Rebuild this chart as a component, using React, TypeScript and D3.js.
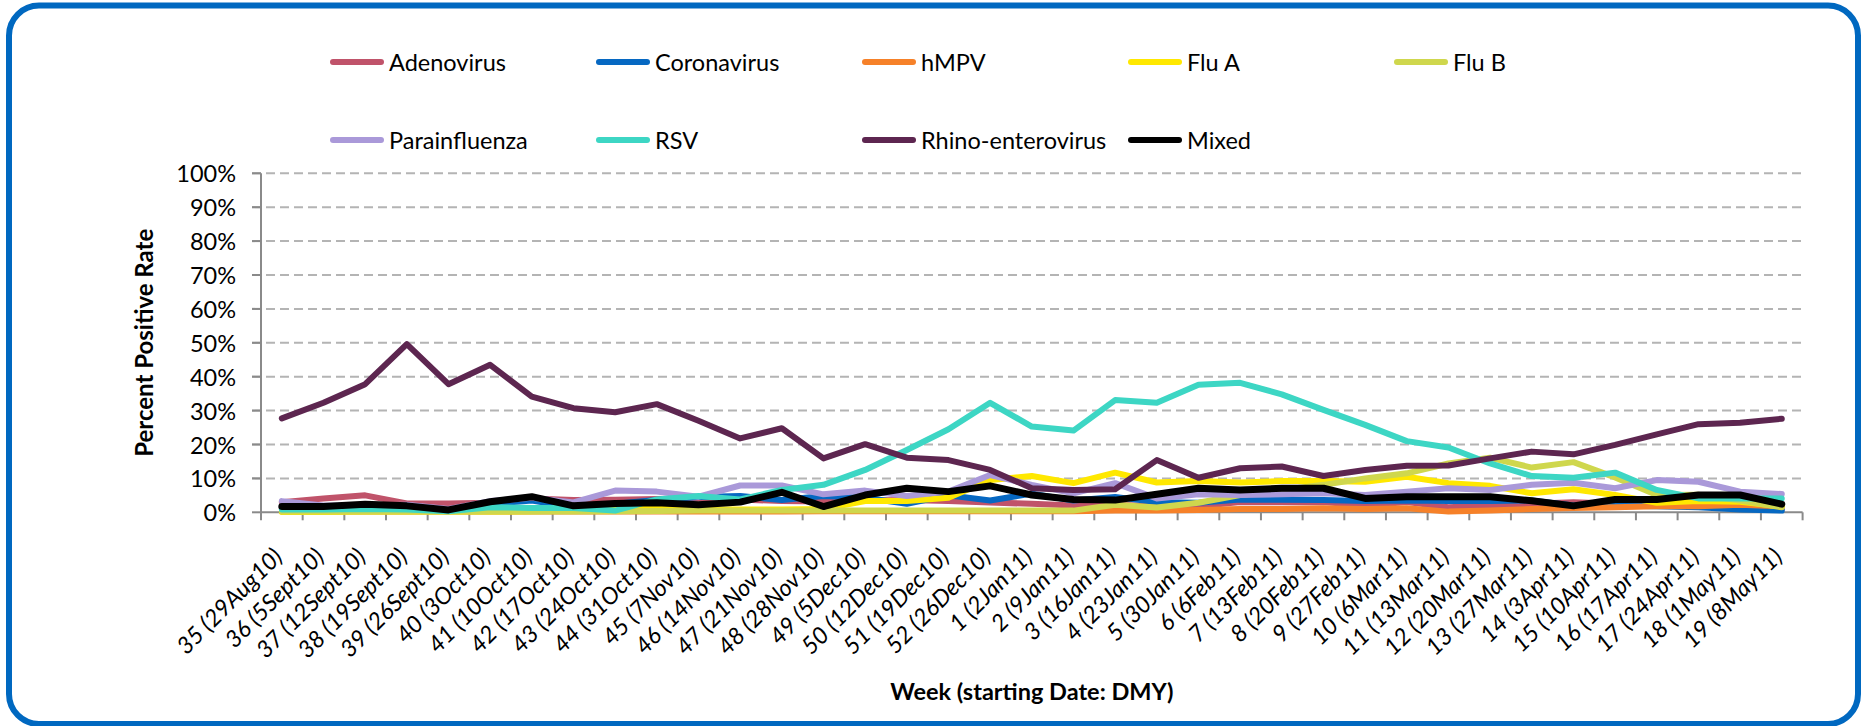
import React from "react";
import * as d3 from "d3";

const categories = [
  "35 (29Aug10)", "36 (5Sept10)", "37 (12Sept10)", "38 (19Sept10)", "39 (26Sept10)",
  "40 (3Oct10)", "41 (10Oct10)", "42 (17Oct10)", "43 (24Oct10)", "44 (31Oct10)",
  "45 (7Nov10)", "46 (14Nov10)", "47 (21Nov10)", "48 (28Nov10)", "49 (5Dec10)",
  "50 (12Dec10)", "51 (19Dec10)", "52 (26Dec10)", "1 (2Jan11)", "2 (9Jan11)",
  "3 (16Jan11)", "4 (23Jan11)", "5 (30Jan11)", "6 (6Feb11)", "7 (13Feb11)",
  "8 (20Feb11)", "9 (27Feb11)", "10 (6Mar11)", "11 (13Mar11)", "12 (20Mar11)",
  "13 (27Mar11)", "14 (3Apr11)", "15 (10Apr11)", "16 (17Apr11)", "17 (24Apr11)",
  "18 (1May11)", "19 (8May11)",
];

const adenovirus = [3.0, 4.1, 5.0, 2.6, 2.6, 2.8, 4.1, 3.6, 3.7, 3.9, 4.1, 3.8, 3.3, 3.2, 3.5, 3.6, 3.3, 2.9, 2.5, 2.0, 2.2, 1.8, 1.8, 3.0, 3.0, 3.0, 2.0, 3.0, 1.5, 2.0, 2.5, 3.0, 2.5, 2.0, 2.0, 1.5, 1.0];
const coronavirus = [1.5, 1.5, 1.8, 1.5, 0.5, 2.5, 3.5, 1.5, 2.5, 3.6, 4.5, 4.8, 3.6, 4.8, 4.3, 2.5, 5.0, 3.5, 5.5, 3.5, 4.5, 3.0, 2.8, 3.8, 3.7, 3.6, 3.3, 3.5, 3.3, 3.3, 3.5, 2.0, 2.0, 1.8, 1.5, 0.8, 0.5];
const hmpv = [0.2, 0.2, 0.2, 0.2, 0.2, 0.2, 0.2, 0.2, 0.2, 0.2, 0.2, 0.2, 0.2, 0.3, 0.3, 0.3, 0.3, 0.3, 0.3, 0.3, 0.5, 0.5, 0.7, 1.0, 1.0, 1.2, 1.0, 1.2, 0.2, 0.5, 1.0, 1.3, 1.5, 1.8, 1.8, 2.2, 1.8];
const fluA = [0.1, 0.1, 0.2, 0.2, 0.2, 0.2, 0.3, 0.5, 0.8, 1.5, 0.8, 0.8, 0.8, 1.0, 3.3, 3.3, 4.3, 9.5, 10.7, 8.6, 11.7, 8.8, 9.2, 8.8, 9.2, 9.2, 9.0, 10.5, 8.6, 7.8, 5.6, 6.8, 5.1, 2.8, 3.3, 3.1, 1.7];
const fluB = [0.2, 0.2, 0.2, 0.2, 0.2, 0.2, 0.2, 0.2, 0.3, 0.4, 0.5, 0.5, 0.5, 0.5, 0.5, 0.5, 0.5, 0.5, 0.5, 0.5, 2.2, 1.4, 2.8, 5.1, 6.6, 8.1, 10.0, 11.5, 14.4, 16.1, 13.2, 14.8, 10.3, 5.1, 5.2, 3.5, 1.5];
const parainfluenza = [3.3, 2.0, 2.0, 2.2, 1.0, 3.3, 4.3, 2.9, 6.4, 6.1, 4.6, 7.9, 7.9, 5.3, 6.4, 4.8, 6.1, 11.0, 8.1, 5.6, 8.6, 4.1, 5.3, 5.1, 5.3, 5.6, 5.1, 6.1, 7.1, 6.6, 8.1, 8.7, 7.1, 9.5, 9.0, 6.1, 5.4];
const rsv = [0.8, 0.8, 1.0, 0.8, 0.3, 1.5, 1.3, 1.3, 0.5, 3.8, 4.8, 3.8, 6.6, 8.1, 12.5, 18.4, 24.5, 32.3, 25.3, 24.1, 33.1, 32.3, 37.6, 38.2, 34.8, 30.2, 25.8, 21.0, 19.1, 14.4, 10.7, 10.2, 11.7, 6.6, 4.1, 4.1, 4.1];
const rhino = [27.7, 32.3, 37.8, 49.6, 37.8, 43.5, 34.1, 30.7, 29.5, 31.9, 27.0, 21.8, 24.8, 15.9, 20.1, 16.1, 15.4, 12.5, 7.1, 6.6, 6.8, 15.4, 10.2, 13.0, 13.5, 10.7, 12.5, 13.7, 13.8, 15.9, 17.9, 17.1, 19.9, 23.0, 26.0, 26.4, 27.6];
const mixed = [1.7, 1.7, 2.4, 1.9, 0.7, 3.1, 4.6, 1.9, 2.6, 2.8, 2.2, 3.0, 5.9, 1.7, 5.1, 7.1, 6.1, 7.8, 5.1, 3.8, 3.6, 5.3, 7.1, 6.6, 7.1, 7.1, 4.1, 4.6, 4.6, 4.6, 3.4, 1.9, 3.8, 3.8, 5.1, 5.1, 2.4];

const seriesNames = ["Adenovirus", "Coronavirus", "hMPV", "Flu A", "Flu B", "Parainfluenza", "RSV", "Rhino-enterovirus", "Mixed"];
const seriesValues = [adenovirus, coronavirus, hmpv, fluA, fluB, parainfluenza, rsv, rhino, mixed];
const seriesColors = ["#c0536a", "#0668c2", "#f68129", "#ffe800", "#cfd74d", "#aa99d9", "#3dd6c4", "#5d2650", "#000000"];

const yTicks = [0, 10, 20, 30, 40, 50, 60, 70, 80, 90, 100];

const FONT = "Lato, 'Open Sans', sans-serif";

export default function App() {
  const W = 1862;
  const H = 726;
  const left = 261;
  const right = 1802.6;
  const top = 173.3;
  const bottom = 512.3;

  const x = d3.scaleBand<string>().domain(categories).range([left, right]).padding(0);
  const y = d3.scaleLinear().domain([0, 100]).range([bottom, top]);
  const bw = x.bandwidth();
  const cx = (c: string) => (x(c) as number) + bw / 2;

  const line = d3
    .line<number>()
    .x((_, i) => cx(categories[i]))
    .y((v) => y(v));

  const legendCols = [330, 596, 862, 1128, 1394];
  const legendRows = [62, 140];

  const boundaries = d3.range(categories.length + 1).map((i) => left + i * bw);

  return (
    <svg
      width={W}
      height={H}
      viewBox={`0 0 ${W} ${H}`}
      style={{ position: "absolute", left: 0, top: 0, background: "#fff" }}
      fontFamily={FONT}
    >
      <rect x={0} y={0} width={W} height={H} fill="#ffffff" />
      <rect x={9} y={5.5} width={1849} height={718.5} rx={30} ry={30} fill="none" stroke="#0068c0" strokeWidth={6} />

      {/* gridlines */}
      {yTicks.map((t) => (
        <line
          key={"g" + t}
          x1={left - 9}
          x2={right}
          y1={y(t)}
          y2={y(t)}
          stroke={t === 0 ? "none" : "#b4b4b4"}
          strokeWidth={2}
          strokeDasharray="9,5"
        />
      ))}

      {/* y axis */}
      <line x1={left} x2={left} y1={top} y2={bottom} stroke="#8a8a8a" strokeWidth={2} />
      {yTicks.map((t) => (
        <line key={"yt" + t} x1={left - 9} x2={left} y1={y(t)} y2={y(t)} stroke="#8a8a8a" strokeWidth={2} />
      ))}
      {yTicks.map((t) => (
        <text
          key={"yl" + t}
          x={236}
          y={y(t)}
          textAnchor="end"
          dominantBaseline="central"
          fontSize={23.5}
          fill="#000"
        >
          {t + "%"}
        </text>
      ))}

      {/* x axis */}
      <line x1={left} x2={right} y1={bottom} y2={bottom} stroke="#8a8a8a" strokeWidth={2} />
      {boundaries.map((b, i) => (
        <line key={"xt" + i} x1={b} x2={b} y1={bottom} y2={bottom + 8} stroke="#8a8a8a" strokeWidth={2} />
      ))}
      {categories.map((c) => (
        <text
          key={"xl" + c}
          transform={`translate(${cx(c) + 2},${bottom + 46}) rotate(-45)`}
          textAnchor="end"
          fontSize={23.5}
          fontStyle="italic"
          fill="#000"
        >
          {c}
        </text>
      ))}

      {/* series */}
      {seriesValues.map((vals, k) => (
        <path
          key={"s" + k}
          d={line(vals) || ""}
          fill="none"
          stroke={seriesColors[k]}
          strokeWidth={k === 8 ? 7 : 6}
          strokeLinejoin="round"
          strokeLinecap="round"
        />
      ))}

      {/* legend */}
      {seriesNames.map((name, k) => {
        const col = k < 5 ? k : k - 5;
        const row = k < 5 ? 0 : 1;
        const lx = legendCols[col];
        const ly = legendRows[row];
        return (
          <g key={"lg" + k}>
            <line x1={lx + 3} x2={lx + 51} y1={ly} y2={ly} stroke={seriesColors[k]} strokeWidth={6} strokeLinecap="round" />
            <text x={lx + 59} y={ly} dominantBaseline="central" fontSize={23.5} fill="#000">
              {name}
            </text>
          </g>
        );
      })}

      {/* axis titles */}
      <text
        x={(left + right) / 2}
        y={691}
        textAnchor="middle"
        dominantBaseline="central"
        fontSize={23.5}
        fontWeight="bold"
        fill="#000"
      >
        Week (starting Date: DMY)
      </text>
      <text
        transform={`translate(143,${(top + bottom) / 2}) rotate(-90)`}
        textAnchor="middle"
        dominantBaseline="central"
        fontSize={24}
        fontWeight="bold"
        fill="#000"
      >
        Percent Positive Rate
      </text>
    </svg>
  );
}
